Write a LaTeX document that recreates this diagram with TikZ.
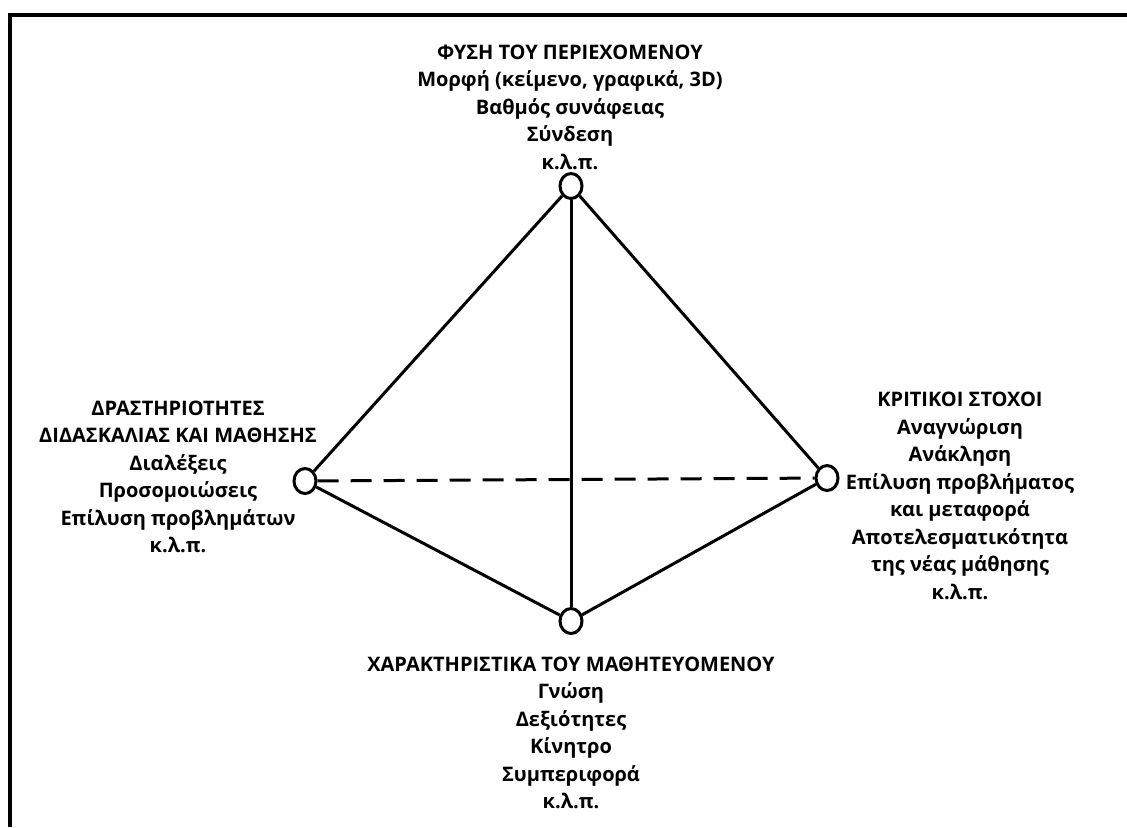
\documentclass[tikz,border=0pt]{standalone}
\usepackage{fontspec}
\setmainfont{Open Sans}
\usetikzlibrary{shapes.geometric, positioning}

\begin{document}
\begin{tikzpicture}[x=0.5pt, y=-0.5pt, line width=1.5pt,
    vertex/.style={draw, ellipse, fill=white, inner sep=0pt, minimum width=11pt, minimum height=12.5pt},
    blurb/.style={align=center, inner sep=0pt, font=\bfseries\fontsize{10}{13.75}\selectfont}]
                                \useasboundingbox (0, 0) rectangle (1127, 827);
                                \draw[line width=2pt] (9.5, 827) -- (9.5, 14.5) -- (1127, 14.5);
                                \node[blurb] (tt) at (570, 107) {ΦΥΣΗ ΤΟΥ ΠΕΡΙΕΧΟΜΕΝΟΥ\\Μορφή (κείμενο, γραφικά, 3D)\\Βαθμός συνάφειας\\Σύνδεση\\κ.λ.π.};
                                \node[blurb] (lt) at (178, 477) {ΔΡΑΣΤΗΡΙΟΤΗΤΕΣ\\ΔΙΔΑΣΚΑΛΙΑΣ ΚΑΙ ΜΑΘΗΣΗΣ\\Διαλέξεις\\Προσομοιώσεις\\Επίλυση προβλημάτων\\κ.λ.π.};
                                \node[blurb] (rt) at (960, 496) {ΚΡΙΤΙΚΟΙ ΣΤΟΧΟΙ\\Αναγνώριση\\Ανάκληση\\Επίλυση προβλήματος\\και μεταφορά\\Αποτελεσματικότητα\\της νέας μάθησης\\κ.λ.π.};
                                \node[blurb] (bt) at (571, 733) {ΧΑΡΑΚΤΗΡΙΣΤΙΚΑ ΤΟΥ ΜΑΘΗΤΕΥΟΜΕΝΟΥ\\Γνώση\\Δεξιότητες\\Κίνητρο\\Συμπεριφορά\\κ.λ.π.};
                                \node[vertex] (t) at (571, 186) {};
                                \node[vertex] (l) at (305, 481) {};
                                \node[vertex] (r) at (827, 478) {};
                                \node[vertex] (b) at (571, 621) {};
                                \draw
                                (t) edge (l)
                                (t) edge (r)
                                (t) edge (b)
                                (l) edge (b)
                                (r) edge (b)
                                (l) edge[dash pattern=on 10.5pt off 6pt] (r);
                            \end{tikzpicture}
\end{document}
